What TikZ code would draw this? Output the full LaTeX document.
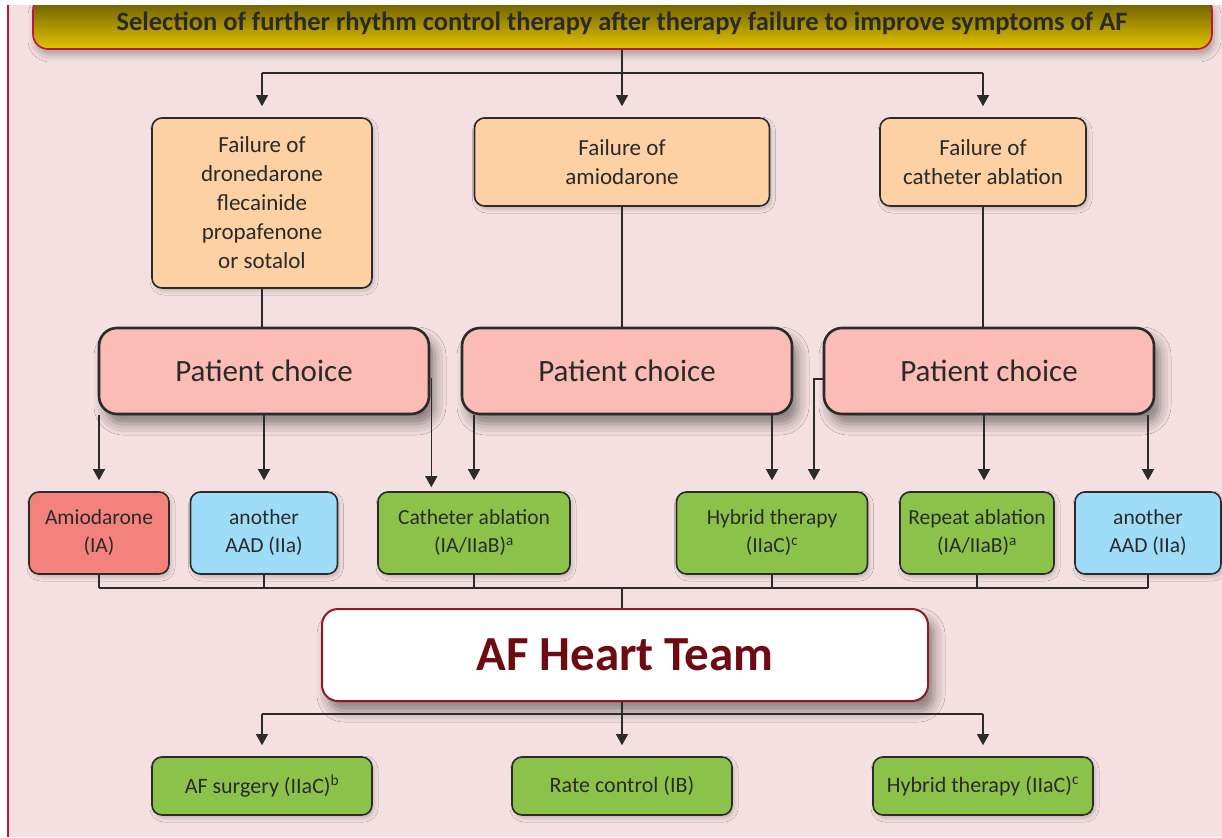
\documentclass[tikz,border=0pt]{standalone}
\usepackage{fontspec}
\setmainfont{Carlito}
\usetikzlibrary{arrows.meta}
\usetikzlibrary{shadows.blur}
\definecolor{bgpink}{HTML}{F4E0E0}
\definecolor{edgered}{HTML}{C0143C}
\definecolor{boxline}{HTML}{2B2B2B}
\definecolor{txt}{HTML}{2A2A2A}
\definecolor{bandtop}{HTML}{5E5200}
\definecolor{bandbot}{HTML}{E2C300}
\definecolor{failfill}{HTML}{FDD1A3}
\definecolor{choicefill}{HTML}{FBBCB6}
\definecolor{amiofill}{HTML}{F4827C}
\definecolor{aadfill}{HTML}{9EDCF8}
\definecolor{greenfill}{HTML}{8BC34A}
\definecolor{teamred}{HTML}{8E1A24}
\definecolor{teamtext}{HTML}{6E0A12}
\tikzset{
	box/.style={draw=boxline, line width=1.6pt, rounded corners=10pt, align=center, text=txt, inner sep=0pt},
	failbox/.style={box, fill=failfill, font=\fontsize{23}{29}\selectfont,
		blur shadow={shadow xshift=2pt, shadow yshift=-3pt, shadow blur radius=4pt, shadow opacity=20}},
	choicebox/.style={box, fill=choicefill, line width=2.6pt, rounded corners=18pt, minimum width=330pt, minimum height=86pt,
		font=\fontsize{31}{36}\selectfont,
		blur shadow={shadow xshift=6pt, shadow yshift=-10pt, shadow blur radius=11pt, shadow opacity=45}},
	optbox/.style={box, minimum height=82pt, font=\fontsize{21.5}{28}\selectfont,
		blur shadow={shadow xshift=2pt, shadow yshift=-3pt, shadow blur radius=4pt, shadow opacity=20}},
	endbox/.style={box, fill=greenfill, minimum width=220pt, minimum height=58pt, font=\fontsize{22}{26}\selectfont,
		blur shadow={shadow xshift=2pt, shadow yshift=-3pt, shadow blur radius=4pt, shadow opacity=20}},
	conn/.style={draw=boxline, line width=1.2pt},
	arr/.style={conn, -{Triangle[width=12pt,length=11pt]}, shorten >=11pt},
}

\begin{document}
\begin{tikzpicture}[x=1pt,y=-1pt]
	\fill[bgpink] (0,0) rectangle (1222,837);
	\useasboundingbox (0,0) rectangle (1222,837);

	% title banner
	\node[draw=edgered, line width=1.6pt, rounded corners=15pt, top color=bandtop, bottom color=bandbot,
		minimum width=1179pt, minimum height=54pt, inner sep=0pt,
		blur shadow={shadow xshift=2pt, shadow yshift=-6pt, shadow blur radius=7pt, shadow opacity=30}]
		(ttl) at (622.5,22) {};
	\node[text=txt, font=\fontsize{26.5}{30}\bfseries\selectfont] (ttltext) at (622,23)
		{Selection of further rhythm control therapy after therapy failure to improve symptoms of AF};
	\fill[white] (0,0) rectangle (1222,5);
	\fill[white] (0,0) rectangle (7.4,837);
	\draw[edgered, line width=1.2pt] (8,5) -- (8,837);

	% failures
	\node[failbox, minimum width=220pt, minimum height=170pt] (failA) at (262,203) {Failure of\\dronedarone\\flecainide\\propafenone\\or sotalol};
	\node[failbox, minimum width=295pt, minimum height=88pt] (failB) at (622,162) {Failure of\\amiodarone};
	\node[failbox, minimum width=206pt, minimum height=88pt] (failC) at (983,162) {Failure of\\catheter ablation};

	% patient choice
	\node[choicebox] (pcA) at (264,371) {Patient choice};
	\node[choicebox] (pcB) at (627,371) {Patient choice};
	\node[choicebox] (pcC) at (989,371) {Patient choice};

	% options
	\node[optbox, fill=amiofill, minimum width=140pt] (amio) at (99,533) {Amiodarone\\(IA)};
	\node[optbox, fill=aadfill, minimum width=147pt] (aadA) at (264,533) {another\\AAD (IIa)};
	\node[optbox, fill=greenfill, minimum width=192pt] (catab) at (474,533) {Catheter ablation\\(IA/IIaB)\textsuperscript{a}};
	\node[optbox, fill=greenfill, minimum width=191pt] (hybA) at (772,533) {Hybrid therapy\\(IIaC)\textsuperscript{c}};
	\node[optbox, fill=greenfill, minimum width=154pt] (rep) at (977,533) {Repeat ablation\\(IA/IIaB)\textsuperscript{a}};
	\node[optbox, fill=aadfill, minimum width=146pt] (aadB) at (1148,533) {another\\AAD (IIa)};

	% heart team
	\node[draw=teamred, line width=2pt, rounded corners=16pt, fill=white, minimum width=606pt, minimum height=92pt, inner sep=0pt,
		text=teamtext, font=\fontsize{49}{54}\bfseries\selectfont,
		blur shadow={shadow xshift=6pt, shadow yshift=-10pt, shadow blur radius=11pt, shadow opacity=45}]
		(team) at (625,655) {AF Heart Team};

	\node[endbox] (surg) at (262,786) {AF surgery (IIaC)\textsuperscript{b}};
	\node[endbox] (rate) at (622,786) {Rate control (IB)};
	\node[endbox] (hybB) at (983,786) {Hybrid therapy (IIaC)\textsuperscript{c}};

	% title to failures
	\coordinate (topsplit) at (622,73);
	\draw[arr] (ttl.south -| failB.north) -- (failB.north);
	\draw[conn] (topsplit -| failA.north) -- (topsplit -| failC.north);
	\draw[arr] (topsplit -| failA.north) -- (failA.north);
	\draw[arr] (topsplit -| failC.north) -- (failC.north);

	\draw[conn] (failA.south) -- (failA.south |- pcA.north);
	\draw[conn] (failB.south) -- (failB.south |- pcB.north);
	\draw[conn] (failC.south) -- (failC.south |- pcC.north);

	% choices to options
	\draw[arr] (pcA.south -| amio.north) -- (amio.north);
	\draw[arr] (pcA.south -| aadA.north) -- (aadA.north);
	\draw[arr] ([xshift=1pt,yshift=-7pt]pcA.east) -- ([xshift=1pt,yshift=-7pt]pcA.east |- catab.north);
	\draw[arr] (pcB.south -| catab.north) -- (catab.north);
	\draw[arr] (pcB.south -| hybA.north) -- (hybA.north);
	\draw[arr] ([yshift=-8pt]pcC.west) -| ([xshift=42pt]hybA.north);
	\draw[arr] ([xshift=-5pt]pcC.south) -- ([xshift=-5pt]pcC.south |- rep.north);
	\draw[arr] (pcC.south -| aadB.north) -- (aadB.north);

	% options to heart team
	\coordinate (join) at (622,588);
	\foreach \opt in {amio,aadA,catab,hybA,rep,aadB}
		\draw[conn] (\opt.south) -- (\opt.south |- join);
	\draw[conn] (join -| amio.south) -- (join -| aadB.south);
	\draw[conn] (join) -- (join |- team.north);

	% heart team to last step
	\coordinate (botsplit) at (622,714);
	\draw[arr] (team.south -| rate.north) -- (rate.north);
	\draw[conn] (botsplit -| surg.north) -- (botsplit -| hybB.north);
	\draw[arr] (botsplit -| surg.north) -- (surg.north);
	\draw[arr] (botsplit -| hybB.north) -- (hybB.north);
\end{tikzpicture}
\end{document}
